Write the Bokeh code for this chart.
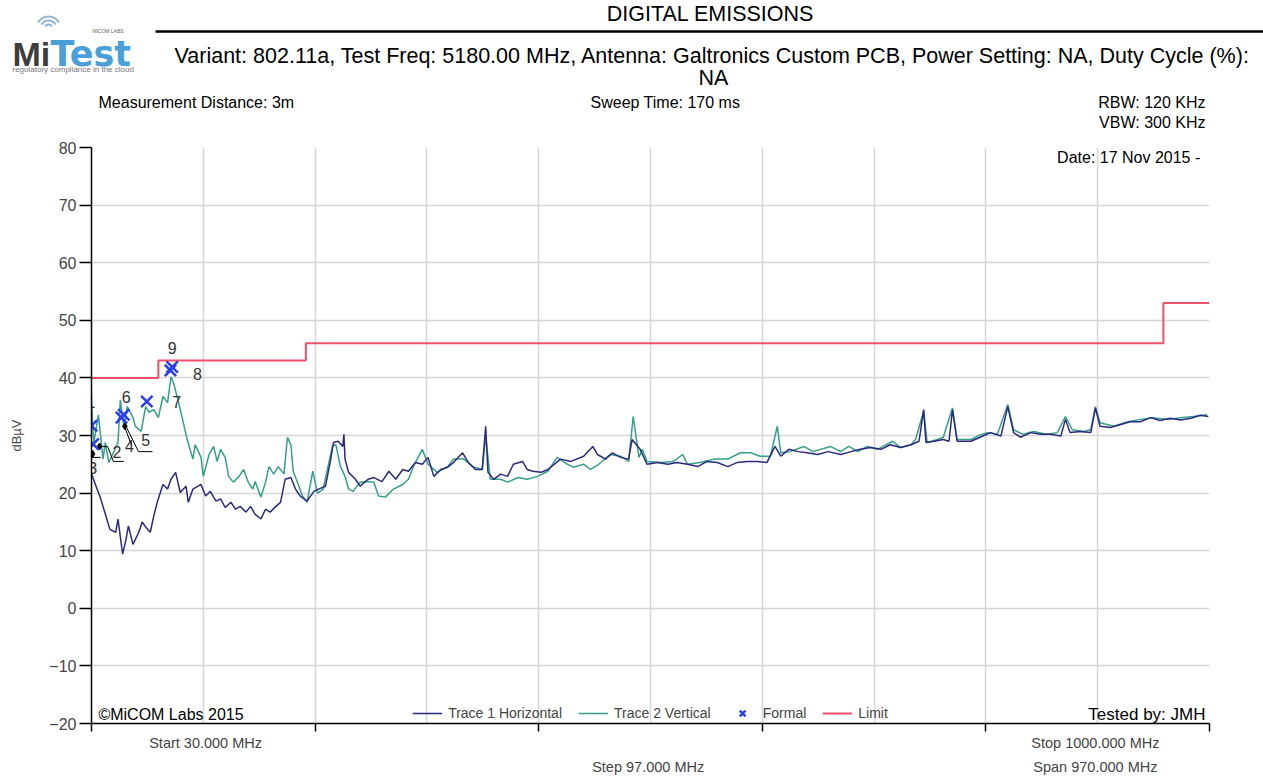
import math
from bokeh.plotting import figure
from bokeh.models import Range1d, FixedTicker, Label, Legend, LegendItem, LinearAxis
from bokeh.embed import file_html
from bokeh.resources import INLINE
from bokeh.core.properties import value

FONT = "Liberation Sans"

# ---------------- data (MHz, dBuV) ----------------
tr1_freq = [30, 38, 46, 51, 53, 57, 60, 62, 66, 71,
            74, 77, 81, 84, 87, 92, 96, 99, 103, 107,
            112, 114, 118, 125, 129, 133, 138, 142, 146, 151,
            155, 159, 164, 168, 172, 177, 181, 185, 190, 194,
            198, 203, 207, 211, 217, 223, 227, 233, 237, 240,
            244, 248, 249, 250, 253, 259, 263, 270, 275, 282,
            288, 294, 300, 305, 311, 317, 322, 327, 333, 339,
            344, 352, 357, 363, 369, 372, 374, 379, 385, 391,
            396, 404, 408, 413, 420, 426, 437, 446, 457, 465,
            469, 476, 482, 489, 496, 499, 506, 512, 521, 530,
            538, 547, 556, 564, 573, 582, 590, 599, 608, 616,
            623, 628, 635, 643, 651, 660, 669, 680, 689, 697,
            706, 715, 723, 732, 741, 748, 752, 754, 761, 769,
            774, 777, 781, 793, 801, 810, 819, 825, 830, 836,
            845, 853, 862, 871, 875, 879, 888, 897, 901, 905,
            914, 923, 931, 940, 949, 957, 966, 975, 984, 992,
            999]
tr1_level = [23.3, 19.0, 13.7, 13.2, 15.5, 9.4, 12.0, 14.3, 11.1, 13.2,
             15.0, 14.1, 13.2, 16.0, 18.4, 21.5, 20.7, 22.4, 23.6, 20.1,
             21.2, 18.4, 20.7, 21.5, 19.5, 20.3, 18.6, 19.0, 17.5, 18.4,
             17.2, 17.7, 16.7, 17.7, 16.3, 15.5, 17.2, 16.7, 17.7, 18.4,
             22.4, 22.7, 20.7, 19.5, 18.6, 20.3, 20.7, 21.2, 25.3, 28.8,
             29.0, 28.1, 30.2, 25.9, 23.6, 22.4, 21.2, 22.4, 22.7, 22.0,
             23.8, 22.4, 24.1, 23.8, 25.3, 25.0, 26.2, 22.9, 24.1, 24.5,
             25.3, 27.0, 25.3, 24.1, 24.1, 31.6, 23.6, 22.4, 23.3, 22.9,
             25.0, 25.5, 24.1, 23.8, 23.6, 24.1, 25.9, 25.5, 26.4, 28.1,
             26.7, 25.9, 27.0, 26.2, 25.9, 29.3, 27.6, 25.0, 25.3, 25.0,
             25.3, 25.0, 24.6, 25.5, 25.3, 24.6, 25.3, 25.5, 25.5, 25.3,
             28.1, 26.4, 27.6, 27.2, 27.0, 26.7, 27.2, 26.7, 27.2, 27.6,
             27.9, 27.6, 28.4, 27.9, 28.4, 29.0, 34.5, 28.8, 29.0, 29.3,
             29.0, 34.5, 29.0, 29.0, 29.7, 30.5, 29.9, 35.0, 30.5, 29.7,
             30.5, 30.2, 30.2, 29.9, 32.8, 30.5, 30.7, 30.5, 34.8, 31.6,
             31.4, 31.9, 32.4, 32.4, 33.1, 32.6, 33.0, 32.7, 33.0, 33.5,
             33.3]

tr2_freq = [30, 32, 36, 40, 42, 45, 49, 53, 55, 58,
            61, 66, 68, 73, 77, 80, 84, 88, 92, 96,
            99, 101, 105, 109, 113, 118, 120, 125, 127, 132,
            136, 139, 142, 146, 149, 153, 158, 162, 166, 170,
            172, 177, 181, 184, 188, 192, 197, 200, 203, 205,
            210, 213, 217, 222, 226, 231, 239, 242, 246, 250,
            253, 257, 263, 270, 275, 279, 285, 292, 300, 305,
            309, 317, 322, 330, 339, 344, 353, 361, 369, 372,
            376, 385, 391, 400, 408, 417, 426, 434, 443, 448,
            457, 463, 470, 480, 489, 496, 500, 505, 508, 512,
            524, 535, 543, 547, 558, 570, 582, 593, 602, 610,
            619, 625, 628, 636, 648, 656, 671, 680, 687, 695,
            703, 712, 725, 732, 741, 745, 752, 755, 764, 769,
            777, 781, 793, 799, 807, 816, 825, 830, 838, 847,
            859, 868, 875, 881, 891, 897, 901, 905, 917, 929,
            940, 951, 964, 975, 986, 998]
tr2_level = [35.7, 28.8, 33.6, 25.9, 28.8, 25.3, 27.0, 28.8, 36.2, 31.6,
             35.0, 33.1, 31.6, 30.7, 35.0, 34.0, 34.5, 33.1, 36.8, 35.7,
             40.2, 39.2, 36.2, 32.8, 29.3, 25.9, 28.4, 26.2, 22.9, 26.7,
             28.1, 25.5, 27.6, 26.2, 22.9, 21.9, 22.9, 24.1, 21.9, 20.7,
             22.0, 19.3, 21.9, 24.6, 23.3, 24.6, 23.3, 29.7, 28.4, 23.8,
             21.2, 19.5, 18.4, 23.8, 20.0, 20.7, 28.1, 28.4, 24.6, 22.9,
             20.7, 20.3, 21.9, 22.0, 21.9, 19.5, 19.3, 20.7, 21.5, 22.4,
             24.5, 27.6, 25.0, 23.6, 24.6, 25.9, 25.9, 24.6, 24.1, 29.8,
             22.4, 22.4, 21.9, 22.7, 22.4, 22.9, 23.8, 26.2, 25.0, 24.5,
             25.0, 24.1, 25.0, 26.7, 26.4, 25.5, 33.3, 26.2, 27.6, 25.5,
             25.3, 25.5, 26.7, 25.0, 25.3, 25.9, 25.9, 27.0, 27.0, 26.4,
             26.4, 31.6, 27.0, 27.2, 28.1, 27.2, 28.1, 27.2, 28.1, 27.2,
             28.1, 27.6, 29.0, 27.9, 28.4, 29.3, 34.2, 28.8, 29.3, 29.7,
             34.8, 29.3, 29.3, 29.9, 30.5, 30.2, 35.4, 31.0, 30.2, 30.7,
             30.2, 30.5, 33.3, 31.0, 30.7, 31.0, 35.0, 32.2, 31.6, 32.4,
             32.8, 33.1, 32.8, 33.1, 33.3, 33.6]

limit_freq = [30, 88, 88, 216, 216, 960, 960, 1000]
limit_level = [40, 40, 43, 43, 46, 46, 53, 53]

formal_freq = [30, 31.5, 56, 58, 78, 98.5, 100]
formal_level = [31.7, 28.5, 33.1, 33.6, 35.9, 41.3, 41.9]

peak_freq = [31, 37, 59]
peak_level = [26.8, 28.1, 31.6]

marker_ids = ["1", "2", "3", "4", "5", "6", "7", "8", "9"]
marker_label_freq = [29.5, 52, 31, 63, 77, 60, 104, 122, 100]
marker_label_level = [35.9, 27.2, 24.4, 28.1, 29.3, 36.7, 35.9, 40.6, 45.2]

leader_xs = [[37, 44, 49, 58], [30, 38], [58.6, 64.7], [60.4, 70.8, 82.9]]
leader_ys = [[28.1, 28.1, 25.5, 25.5], [26.2, 26.2], [31.6, 28.3], [31.4, 27.2, 27.2]]

x_major = [30, 224, 418, 612, 806, 1000]
x_grid = [30 + 97 * i for i in range(11)]
y_ticks = [-20, -10, 0, 10, 20, 30, 40, 50, 60, 70, 80]

footer_row1 = {129: "Start 30.000 MHz", 901: "Stop 1000.000 MHz"}
footer_row2 = {513: "Step 97.000 MHz", 901: "Span 970.000 MHz"}

NAVY = "#2b2a7e"
TEAL = "#34a08a"
RED = "#f0506a"
BLUE = "#2a3ff0"

W = 1263
HEAD_H = 140
MAIN_H = 637

# ---------------- header (separate root, pixel coordinates) ----------------
head = figure(width=W, height=HEAD_H, x_range=Range1d(0, W), y_range=Range1d(HEAD_H, 0),
              x_axis_location=None, y_axis_location=None, toolbar_location=None,
              output_backend="svg", min_border=0, title=None)
head.xgrid.grid_line_color = None
head.ygrid.grid_line_color = None
head.outline_line_color = None


def htext(x, y, txt, size, align="left", baseline="middle", color="#000000",
          style="normal", font=FONT):
    head.text(x=[x], y=[y], text=[txt], text_font=value(font), text_font_size=size,
              text_align=align, text_baseline=baseline, text_color=color,
              text_font_style=style)


htext(710, 13, "DIGITAL EMISSIONS", "21.5px", align="center")
head.line(x=[155, W], y=[31, 31], line_color="black", line_width=2.5)
htext(712, 55, "Variant: 802.11a, Test Freq: 5180.00 MHz, Antenna: Galtronics Custom PCB, "
      "Power Setting: NA, Duty Cycle (%):", "21.5px", align="center")
htext(713, 77, "NA", "21.5px", align="center")
htext(98, 102, "Measurement Distance: 3m", "16px")
htext(590, 102, "Sweep Time: 170 ms", "16px")
htext(1205, 102, "RBW: 120 KHz", "16px", align="right")
htext(1205, 122, "VBW: 300 KHz", "16px", align="right")

# logo
head.arc(x=[48, 48, 48], y=[28, 28, 28], radius=[4, 8, 12],
         start_angle=math.pi / 6, end_angle=5 * math.pi / 6,
         line_color="#8fb4d6", line_width=2)
htext(12, 53, "Mi", "34px", baseline="alphabetic", color="#3d3d3d", style="bold")
htext(50, 53, "Test", "35px", baseline="alphabetic", color="#4a9fd8", style="bold",
      font="DejaVu Sans")
htext(92, 30, "MiCOM LABS", "5px", color="#666666")
htext(12, 69, "regulatory compliance in the cloud", "8px", color="#777777")

# ---------------- main chart ----------------
p = figure(width=W, height=MAIN_H, x_range=Range1d(30, 1000), y_range=Range1d(-20, 80),
           toolbar_location=None, output_backend="svg", title=None,
           min_border_left=91, min_border_right=54, min_border_top=7, min_border_bottom=40)
p.outline_line_color = None

p.xaxis.ticker = FixedTicker(ticks=x_major)
p.xaxis.major_label_overrides = {t: "" for t in x_major}
p.xaxis.major_label_text_font_size = "1px"
p.xaxis.major_label_standoff = 0
p.xaxis.major_tick_in = 0
p.xaxis.major_tick_out = 8
p.xaxis.minor_tick_line_color = None
p.xaxis.minor_tick_out = 0
p.xaxis.axis_line_width = 1.5
p.xaxis.major_tick_line_width = 1.5

for row, standoff in ((footer_row1, 3), (footer_row2, 5)):
    ax = LinearAxis(ticker=FixedTicker(ticks=list(row.keys())),
                    major_label_overrides=row,
                    axis_line_color=None, major_tick_line_color=None,
                    minor_tick_line_color=None, major_tick_in=0, major_tick_out=0,
                    minor_tick_in=0, minor_tick_out=0,
                    major_label_text_font=FONT, major_label_text_font_size="14.5px",
                    major_label_standoff=standoff)
    p.add_layout(ax, "below")

p.yaxis.ticker = FixedTicker(ticks=y_ticks)
p.yaxis.major_tick_in = 0
p.yaxis.major_tick_out = 12
p.yaxis.minor_tick_line_color = None
p.yaxis.minor_tick_out = 0
p.yaxis.axis_line_width = 1.5
p.yaxis.major_tick_line_width = 1.5
p.yaxis.major_label_text_font = FONT
p.yaxis.major_label_text_font_size = "16px"
p.yaxis.major_label_standoff = 3
p.yaxis.axis_label = "dBµV"
p.yaxis.axis_label_text_font = FONT
p.yaxis.axis_label_text_font_size = "13px"
p.yaxis.axis_label_text_font_style = "normal"
p.yaxis.axis_label_standoff = 22

p.xgrid.ticker = FixedTicker(ticks=x_grid)
p.ygrid.ticker = FixedTicker(ticks=y_ticks)
p.xgrid.grid_line_color = "#d6d6d6"
p.ygrid.grid_line_color = "#d6d6d6"
p.xgrid.grid_line_width = 1.5
p.ygrid.grid_line_width = 1.5

r_teal = p.line(tr2_freq, tr2_level, line_color=TEAL, line_width=1.5)
r_navy = p.line(tr1_freq, tr1_level, line_color=NAVY, line_width=1.5)
r_lim = p.line(limit_freq, limit_level, line_color=RED, line_width=2)
p.multi_line(xs=leader_xs, ys=leader_ys, line_color="black", line_width=1)
p.scatter(peak_freq, peak_level, marker="diamond", size=7, color="black")
r_formal = p.scatter(formal_freq, formal_level, marker="x", size=16, line_width=2.5,
                     line_color=BLUE)
p.text(x=marker_label_freq, y=marker_label_level, text=marker_ids,
       text_font=value(FONT), text_font_size="16px", text_color="#333333",
       text_align="center", text_baseline="middle")

legend = Legend(items=[LegendItem(label="Trace 1 Horizontal", renderers=[r_navy]),
                       LegendItem(label="Trace 2 Vertical", renderers=[r_teal]),
                       LegendItem(label="Formal", renderers=[r_formal]),
                       LegendItem(label="Limit", renderers=[r_lim])],
                location="bottom_center", orientation="horizontal",
                label_text_font=FONT, label_text_font_size="14px",
                glyph_width=30, glyph_height=20, label_height=16, label_standoff=6,
                spacing=16, padding=0, margin=0,
                background_fill_alpha=0, border_line_alpha=0)
p.add_layout(legend)


def lab(x, y, txt, size, align="left", baseline="middle"):
    p.add_layout(Label(x=x, y=y, text=txt, text_font=FONT, text_font_size=size,
                       text_align=align, text_baseline=baseline, text_color="#000000"))


lab(992, 78.3, "Date: 17 Nov 2015 -", "16px", align="right")
lab(36, -18.4, "©MiCOM Labs 2015", "16px")
lab(996.5, -18.4, "Tested by: JMH", "17px", align="right")

open("out.html", "w").write(file_html([head, p], INLINE))
